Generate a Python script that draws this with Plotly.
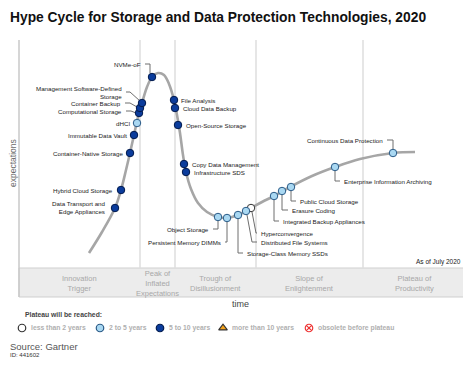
import plotly.graph_objects as go

# ---------------- data ----------------
title_text = "Hype Cycle for Storage and Data Protection Technologies, 2020"

# hype curve trace (canvas-pixel scale: x right, y down)
curve_x = [89, 102, 115, 121, 126, 130, 134, 138, 142, 147, 152, 158, 164, 169, 174, 177, 180, 183, 186, 191, 198, 207, 218, 227, 238, 251, 262, 274, 290, 312, 335, 360, 393, 415]
curve_y = [253, 232, 208, 190, 170, 153, 135, 117, 103, 87, 77, 73, 75, 84, 100, 115, 133, 155, 172, 189, 203, 212, 217, 218, 215, 208, 202, 196, 187, 176, 167, 159, 153, 152]

tech_names = ["Data Transport and Edge Appliances", "Hybrid Cloud Storage", "Container-Native Storage",
              "Immutable Data Vault", "dHCI", "Computational Storage", "Container Backup",
              "Management Software-Defined Storage", "NVMe-oF", "File Analysis", "Cloud Data Backup",
              "Open-Source Storage", "Copy Data Management", "Infrastructure SDS", "Object Storage",
              "Persistent Memory DIMMs", "Storage-Class Memory SSDs", "Distributed File Systems",
              "Hyperconvergence", "Integrated Backup Appliances", "Erasure Coding", "Public Cloud Storage",
              "Enterprise Information Archiving", "Continuous Data Protection"]
tech_x = [115, 121, 130, 134, 137, 139, 140, 142, 152, 174, 175, 178, 184, 186, 218, 227, 238, 246, 251, 274, 282, 291, 335, 393]
tech_y = [208, 190, 153, 135, 123, 113, 108, 103, 77, 100, 108, 125, 164, 172, 217, 218, 215, 211, 208, 196, 191, 187, 167, 153]
tech_maturity = ["5-10", "5-10", "5-10", "5-10", "2-5", "5-10", "5-10", "5-10", "5-10", "5-10", "5-10",
                 "5-10", "5-10", "5-10", "2-5", "2-5", "2-5", "2-5", "<2", "2-5", "2-5", "2-5", "2-5", "2-5"]

phase_names = ["Innovation<br>Trigger", "Peak of<br>Inflated<br>Expectations", "Trough of<br>Disillusionment",
               "Slope of<br>Enlightenment", "Plateau of<br>Productivity"]
phase_bounds = [19, 140, 175, 256, 363, 465]

legend_labels = ["less than 2 years", "2 to 5 years", "5 to 10 years", "more than 10 years", "obsolete before plateau"]

# ---------------- layout helpers ----------------
label_layout = {
    "Data Transport and Edge Appliances": ("Data Transport and<br>Edge Appliances", 108, 207, "right", None),
    "Hybrid Cloud Storage": ("Hybrid Cloud Storage", 115, 190, "right", None),
    "Container-Native Storage": ("Container-Native Storage", 125, 153, "right", None),
    "Immutable Data Vault": ("Immutable Data Vault", 129, 135, "right", None),
    "dHCI": ("dHCI", 132, 123, "right", None),
    "Computational Storage": ("Computational Storage", 124, 111, "right", [(126, 111), (131, 111), (136, 113)]),
    "Container Backup": ("Container Backup", 123, 103, "right", [(125, 103), (130, 103), (137, 107)]),
    "Management Software-Defined Storage": ("Management Software-Defined<br>Storage", 124, 92, "right",
                                            [(126, 92), (130, 92), (140, 101)]),
    "NVMe-oF": ("NVMe-oF", 143, 64, "right", [(145, 64), (150, 64), (150, 73)]),
    "File Analysis": ("File Analysis", 179, 100, "left", None),
    "Cloud Data Backup": ("Cloud Data Backup", 181, 108, "left", None),
    "Open-Source Storage": ("Open-Source Storage", 184, 125, "left", None),
    "Copy Data Management": ("Copy Data Management", 190, 164, "left", None),
    "Infrastructure SDS": ("Infrastructure SDS", 192, 172, "left", None),
    "Object Storage": ("Object Storage", 211, 229, "right", [(213, 229), (218, 229), (218, 221)]),
    "Persistent Memory DIMMs": ("Persistent Memory DIMMs", 223, 242, "right", [(225, 242), (227, 242), (227, 222)]),
    "Storage-Class Memory SSDs": ("Storage-Class Memory SSDs", 245, 253, "left", [(238, 219), (238, 253), (243, 253)]),
    "Distributed File Systems": ("Distributed File Systems", 259, 242, "left", [(247, 215), (252, 242), (257, 242)]),
    "Hyperconvergence": ("Hyperconvergence", 259, 233, "left", [(252, 212), (256, 233), (257, 233)]),
    "Integrated Backup Appliances": ("Integrated Backup Appliances", 281, 221, "left", [(274, 200), (274, 221), (279, 221)]),
    "Erasure Coding": ("Erasure Coding", 290, 210, "left", [(282, 195), (282, 210), (288, 210)]),
    "Public Cloud Storage": ("Public Cloud Storage", 298, 201, "left", [(291, 191), (291, 201), (296, 201)]),
    "Enterprise Information Archiving": ("Enterprise Information Archiving", 342, 181, "left", [(335, 171), (335, 181), (340, 181)]),
    "Continuous Data Protection": ("Continuous Data Protection", 385, 140, "right", [(387, 140), (393, 140), (393, 149)]),
}

mat_style = {"<2": ("white", "#333333"), "2-5": ("#a9d8f2", "#2a5a86"), "5-10": ("#0b3c9c", "#021a4d")}

FONT = "Liberation Sans, Arial, sans-serif"
# the page body has an 8px margin: the figure spans canvas pixels 8..471 x 8..379
OFF = 8
fig = go.Figure()

# phase band + dividers
fig.add_shape(type="rect", x0=phase_bounds[0], x1=phase_bounds[-1], y0=268, y1=297,
              fillcolor="#ececec", line=dict(color="#cfcfcf", width=1), layer="below")
for b in phase_bounds[:-1]:
    fig.add_shape(type="line", x0=b, x1=b, y0=40, y1=268,
                  line=dict(color="#c8c8c8" if b == phase_bounds[0] else "#dedede", width=1.5), layer="below")
fig.add_shape(type="line", x0=19, x1=19, y0=268, y1=297, line=dict(color="#c8c8c8", width=1.5), layer="below")

for i, p in enumerate(phase_names):
    fig.add_annotation(x=(phase_bounds[i] + phase_bounds[i + 1]) / 2, y=283, text=p, showarrow=False,
                       font=dict(family=FONT, size=7.5, color="#a8a8a8"), align="center",
                       xanchor="center", yanchor="middle")

# curve
fig.add_trace(go.Scatter(x=curve_x, y=curve_y, mode="lines", line=dict(color="#a6a6a6", width=2.6, shape="spline", smoothing=1.0),
                         hoverinfo="skip"))

# leader lines
lx, ly = [], []
for n in tech_names:
    lead = label_layout[n][4]
    if lead:
        for (a, b) in lead:
            lx.append(a); ly.append(b)
        lx.append(None); ly.append(None)
fig.add_trace(go.Scatter(x=lx, y=ly, mode="lines", line=dict(color="#6e6e6e", width=1), hoverinfo="skip"))

# markers
for m in ["<2", "2-5", "5-10"]:
    xs = [x for x, mm in zip(tech_x, tech_maturity) if mm == m]
    ys = [y for y, mm in zip(tech_y, tech_maturity) if mm == m]
    fig.add_trace(go.Scatter(x=xs, y=ys, mode="markers",
                             marker=dict(size=7.5, color=mat_style[m][0], line=dict(color=mat_style[m][1], width=1))))

# labels
for n in tech_names:
    txt, ax, ay, anc, _ = label_layout[n]
    fig.add_annotation(x=ax, y=ay, text=txt, showarrow=False, xanchor=anc, yanchor="middle",
                       align=anc, font=dict(family=FONT, size=6.2, color="#1a1a1a"))

# title and texts
fig.add_annotation(x=8, y=17, text="<b>" + title_text + "</b>", showarrow=False, xanchor="left", yanchor="middle",
                   font=dict(family=FONT, size=13.8, color="#111111"))
fig.add_annotation(x=13, y=163, text="expectations", textangle=-90, showarrow=False, xanchor="center", yanchor="middle",
                   font=dict(family=FONT, size=8.5, color="#6a6a6a"))
fig.add_annotation(x=240, y=304, text="time", showarrow=False, xanchor="center", yanchor="middle",
                   font=dict(family=FONT, size=9, color="#444444"))
fig.add_annotation(x=463, y=262, text="As of July 2020", showarrow=False, xanchor="right", yanchor="middle",
                   font=dict(family=FONT, size=6.5, color="#222222"))
fig.add_annotation(x=23, y=314, text="<b>Plateau will be reached:</b>", showarrow=False, xanchor="left", yanchor="middle",
                   font=dict(family=FONT, size=6.8, color="#444444"))
fig.add_annotation(x=8, y=346, text="Source: Gartner", showarrow=False, xanchor="left", yanchor="middle",
                   font=dict(family=FONT, size=9.5, color="#555555"))
fig.add_annotation(x=8, y=355, text="ID: 441602", showarrow=False, xanchor="left", yanchor="middle",
                   font=dict(family=FONT, size=6, color="#333333"))

# legend
leg_x = [22, 100, 160, 223, 309]
leg_sym = ["circle", "circle", "circle", "triangle-up", "circle-x"]
leg_fill = ["white", "#a9d8f2", "#0b3c9c", "#f5a31a", "white"]
leg_line = ["#333333", "#2a5a86", "#021a4d", "#333333", "#ee3333"]
for i in range(5):
    fig.add_trace(go.Scatter(x=[leg_x[i]], y=[328], mode="markers",
                             marker=dict(symbol=leg_sym[i], size=7.5, color=leg_fill[i],
                                         line=dict(color=leg_line[i], width=1.2))))
    fig.add_annotation(x=leg_x[i] + 7, y=328, text="<b>" + legend_labels[i] + "</b>", showarrow=False,
                       xanchor="left", yanchor="middle", font=dict(family=FONT, size=6.8, color="#b0b0b0"))

fig.update_layout(width=471 - OFF, height=379 - OFF, margin=dict(l=0, r=0, t=0, b=0, pad=0), autosize=False,
                  paper_bgcolor="white", plot_bgcolor="white", showlegend=False,
                  xaxis=dict(range=[OFF, 471], visible=False, fixedrange=True),
                  yaxis=dict(range=[379, OFF], visible=False, fixedrange=True))
fig.write_html("out.html")
